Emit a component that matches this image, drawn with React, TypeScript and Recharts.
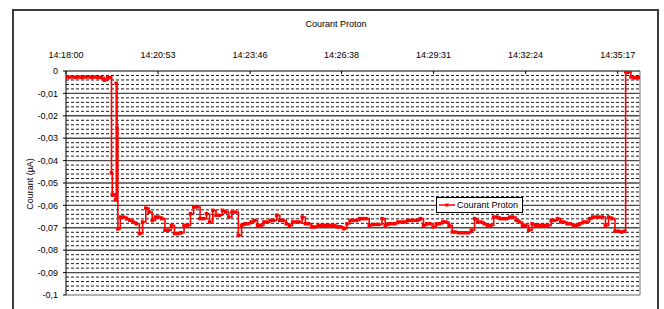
import React from 'react';
import { LineChart, Line, XAxis, YAxis, ReferenceLine, Legend } from 'recharts';

const CHART_TITLE = 'Courant Proton';
const SERIES_NAME = 'Courant Proton';
const Y_LABEL = 'Courant (µA)';

const X_TICKS = [0, 173, 346, 518, 691, 864, 1037];
const X_TICK_LABELS = ['14:18:00', '14:20:53', '14:23:46', '14:26:38', '14:29:31', '14:32:24', '14:35:17'];
const Y_TICKS = [0, -0.01, -0.02, -0.03, -0.04, -0.05, -0.06, -0.07, -0.08, -0.09, -0.1];
const Y_TICK_LABELS = ['0', '-0,01', '-0,02', '-0,03', '-0,04', '-0,05', '-0,06', '-0,07', '-0,08', '-0,09', '-0,1'];
const MINOR_STEPS = [0.002, 0.004, 0.006, 0.008];

// seconds after 14:18:00
const TIMES = [
  0, 6, 12, 18, 24, 30, 36, 42, 48, 54, 60, 66, 72, 78, 84,
  85.5, 87, 91, 93, 94.5, 96, 97.5,
  102, 108, 114, 120, 126, 132, 138, 144, 150, 156, 162, 168, 174, 180, 186, 192, 198,
  204, 210, 216, 222, 228, 234, 240, 246, 252, 258, 264, 270, 276, 282, 288, 294, 300,
  306, 312, 318, 324, 330, 336, 342, 348, 354, 360, 366, 372, 378, 384, 390, 396, 402,
  408, 414, 420, 426, 432, 438, 444, 450, 456, 462, 468, 474, 480, 486, 492, 498, 504,
  510, 516, 522, 528, 534, 540, 546, 552, 558, 564, 570, 576, 582, 588, 594, 600, 606,
  612, 618, 624, 630, 636, 642, 648, 654, 660, 666, 672, 678, 684, 690, 696, 702, 708,
  714, 720, 726, 732, 738, 744, 750, 756, 762, 768, 774, 780, 786, 792, 798, 804, 810,
  816, 822, 828, 834, 840, 846, 852, 858, 864, 870, 876, 882, 888, 894, 900, 906, 912,
  918, 924, 930, 936, 942, 948, 954, 960, 966, 972, 978, 984, 990, 996, 1002, 1008, 1014,
  1020, 1026, 1032, 1038, 1044, 1050,
  1052, 1056, 1062, 1068, 1074, 1077,
];

// µA
const COURANT = [
  -0.0027, -0.0028, -0.0026, -0.0028, -0.0027, -0.0028, -0.0027, -0.0026, -0.0028, -0.0027, -0.0028, -0.0029, -0.0041, -0.0028, -0.003,
  -0.0455, -0.0553, -0.0553, -0.0576, -0.0055, -0.0255, -0.0705,
  -0.0652, -0.0652, -0.066, -0.0667, -0.0674, -0.0682, -0.0726, -0.0674, -0.0612, -0.063, -0.0667, -0.0652, -0.0652, -0.0659, -0.0711, -0.0711, -0.0689,
  -0.0726, -0.0726, -0.0722, -0.0689, -0.0689, -0.0637, -0.0607, -0.0607, -0.0659, -0.0659, -0.0637, -0.0674, -0.0622, -0.0644, -0.0644, -0.0622, -0.063,
  -0.0652, -0.063, -0.063, -0.0734, -0.0689, -0.0682, -0.0682, -0.0674, -0.0667, -0.0689, -0.0689, -0.0674, -0.0674, -0.0667, -0.0667, -0.0644, -0.0667,
  -0.0667, -0.0682, -0.0689, -0.0674, -0.0674, -0.0674, -0.0652, -0.0682, -0.0682, -0.0696, -0.0696, -0.0689, -0.0689, -0.0689, -0.0689, -0.0689, -0.0689,
  -0.0696, -0.0696, -0.0704, -0.0682, -0.0667, -0.0667, -0.0667, -0.0659, -0.0659, -0.0659, -0.0689, -0.0685, -0.0685, -0.0685, -0.0659, -0.0689, -0.0682,
  -0.0682, -0.0682, -0.0674, -0.0674, -0.0674, -0.0667, -0.0667, -0.0667, -0.0667, -0.0659, -0.0689, -0.0682, -0.0682, -0.0696, -0.0682, -0.0682, -0.0674,
  -0.0674, -0.0689, -0.0719, -0.0719, -0.0722, -0.0722, -0.0722, -0.0722, -0.0711, -0.0659, -0.0674, -0.0674, -0.0682, -0.0689, -0.0689, -0.0652, -0.0652,
  -0.0659, -0.0659, -0.0659, -0.0652, -0.0652, -0.0667, -0.0674, -0.0689, -0.0689, -0.0711, -0.0682, -0.0689, -0.0689, -0.0689, -0.0689, -0.0689, -0.0667,
  -0.0667, -0.0659, -0.0674, -0.0674, -0.0682, -0.0682, -0.0689, -0.0689, -0.0682, -0.0674, -0.0674, -0.0659, -0.0652, -0.0652, -0.0652, -0.0652, -0.0689,
  -0.0652, -0.0659, -0.0715, -0.0715, -0.0719, -0.0715,
  -0.0003, -0.0006, -0.0027, -0.003, -0.003, -0.0029,
];

const X_MAX = 1079;
const FONT = '"Liberation Sans", Arial, sans-serif';
const RED = '#ff0000';

const data = TIMES.map((t, i) => ({ t, v: COURANT[i] }));

const minorValues: number[] = [];
for (let k = 0; k < 10; k++) {
  for (const s of MINOR_STEPS) minorValues.push(-Number((k * 0.01 + s).toFixed(3)));
}
const majorValues = Y_TICKS.filter((v) => v !== 0 && v !== -0.1);

const xLabel = (v: number) => {
  const i = X_TICKS.indexOf(v);
  return i >= 0 ? X_TICK_LABELS[i] : '';
};
const yLabel = (v: number) => {
  const i = Y_TICKS.findIndex((y) => Math.abs(y - v) < 1e-9);
  return i >= 0 ? Y_TICK_LABELS[i] : '';
};

const SquareDot = (props: any) => {
  const { cx, cy, index } = props;
  if (cx == null || cy == null) return <g key={`d${index}`} />;
  return <rect key={`d${index}`} x={cx - 1.75} y={cy - 1.75} width={3.5} height={3.5} fill={RED} />;
};

const LegendBox = () => (
  <div
    style={{
      boxSizing: 'border-box',
      width: 87,
      height: 16,
      border: '1px solid #000',
      background: '#fff',
      display: 'flex',
      alignItems: 'center',
      fontFamily: FONT,
      fontSize: 9,
      color: '#000',
      lineHeight: '14px',
      whiteSpace: 'nowrap',
    }}
  >
    <svg width={20} height={10} style={{ display: 'block' }}>
      <line x1={2} y1={5} x2={18} y2={5} stroke={RED} strokeWidth={1.5} />
      <rect x={8.5} y={3.5} width={3} height={3} fill={RED} />
    </svg>
    <span>{SERIES_NAME}</span>
  </div>
);

export default function App() {
  return (
    <div style={{ position: 'absolute', left: 0, top: 0, width: 664, height: 309, background: '#fff', overflow: 'hidden' }}>
      <div
        style={{
          position: 'absolute',
          left: 12,
          top: 9,
          width: 647,
          height: 330,
          boxSizing: 'border-box',
          border: '2px solid #3a3a3a',
        }}
      />
      <div
        style={{
          position: 'absolute',
          left: 236,
          width: 200,
          top: 19,
          textAlign: 'center',
          fontFamily: FONT,
          fontSize: 9,
          color: '#000',
          lineHeight: '11px',
        }}
      >
        {CHART_TITLE}
      </div>
      <div
        style={{
          position: 'absolute',
          left: 30 - 40,
          top: 184 - 6,
          width: 80,
          height: 12,
          transform: 'rotate(-90deg)',
          textAlign: 'center',
          fontFamily: FONT,
          fontSize: 9,
          color: '#000',
          lineHeight: '12px',
          whiteSpace: 'nowrap',
        }}
      >
        {Y_LABEL}
      </div>
      <div style={{ position: 'absolute', left: 0, top: 0 }}>
        <LineChart width={664} height={309} data={data} margin={{ top: 51, left: 16, right: 24, bottom: 14 }}>
          <XAxis
            dataKey="t"
            type="number"
            orientation="top"
            domain={[0, X_MAX]}
            ticks={X_TICKS}
            tickFormatter={xLabel}
            height={20}
            tickSize={-3}
            tickMargin={16}
            interval={0}
            axisLine={{ stroke: '#000', strokeWidth: 1 }}
            tickLine={{ stroke: '#000' }}
            tick={{ fontSize: 9, fill: '#000', fontFamily: FONT }}
            allowDataOverflow
          />
          <YAxis
            type="number"
            domain={[-0.1, 0]}
            ticks={Y_TICKS}
            tickFormatter={yLabel}
            width={50}
            tickSize={3}
            tickMargin={5}
            interval={0}
            axisLine={{ stroke: '#000', strokeWidth: 1 }}
            tickLine={{ stroke: '#000' }}
            tick={{ fontSize: 9, fill: '#000', fontFamily: FONT }}
            allowDataOverflow
          />
          {minorValues.map((v) => (
            <ReferenceLine key={`m${v}`} y={v} stroke="#1a1a1a" strokeWidth={1} strokeDasharray="3 2" />
          ))}
          {majorValues.map((v) => (
            <ReferenceLine key={`M${v}`} y={v} stroke="#4a4a4a" strokeWidth={1.4} />
          ))}
          <ReferenceLine y={-0.1} stroke="#9a9a9a" strokeWidth={1.4} />
          <ReferenceLine x={X_MAX} stroke="#9a9a9a" strokeWidth={1.4} />
          <Legend
            layout="horizontal"
            verticalAlign="middle"
            align="center"
            content={() => <LegendBox />}
            wrapperStyle={{ position: 'absolute', left: 436, top: 197, width: 'auto', height: 'auto' }}
          />
          <Line
            type="stepAfter"
            dataKey="v"
            name={SERIES_NAME}
            stroke={RED}
            strokeWidth={1.6}
            dot={SquareDot}
            activeDot={false}
            isAnimationActive={false}
          />
        </LineChart>
      </div>
    </div>
  );
}
